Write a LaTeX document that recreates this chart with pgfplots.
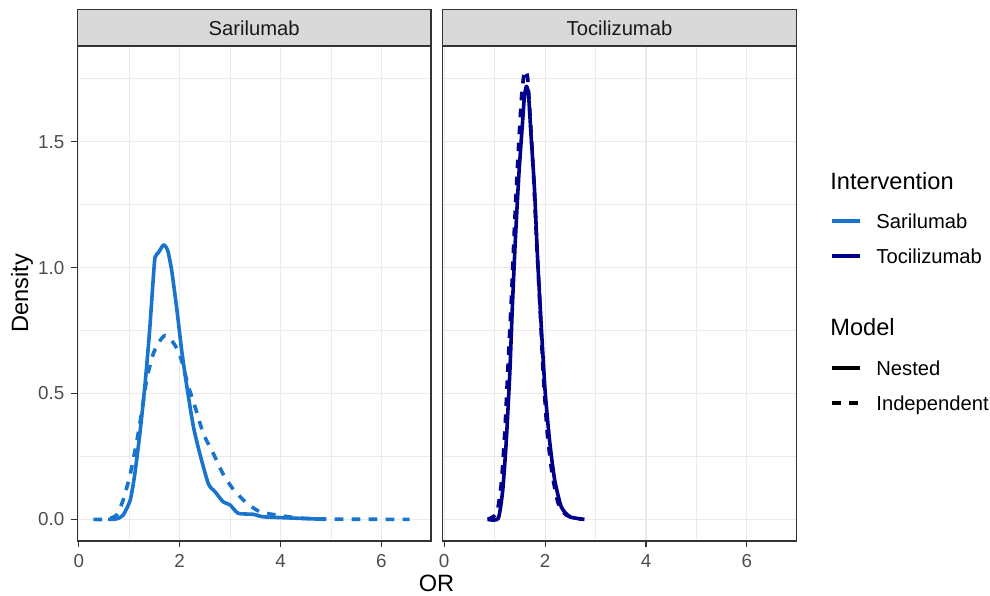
\documentclass[border=0pt]{standalone}
\usepackage{fontspec}
\setmainfont{Liberation Sans}
\usepackage{pgfplots}
\pgfplotsset{compat=1.18}

\definecolor{sari}{HTML}{1874CD}
\definecolor{toci}{HTML}{00008B}
\definecolor{grmaj}{HTML}{EBEBEB}
\definecolor{frame}{HTML}{333333}
\definecolor{strip}{HTML}{D9D9D9}
\definecolor{ticklab}{HTML}{4D4D4D}

\pgfplotsset{
  panel/.style={
    scale only axis, width=176.8pt, height=247.5pt,
    xmin=-0.03, xmax=6.98, ymin=-0.086, ymax=1.88,
    xtick={0,2,4,6}, minor xtick={1,3,5},
    ytick={0,0.5,1,1.5}, minor ytick={0.25,0.75,1.25,1.75},
    grid=both,
    major grid style={grmaj, line width=0.6pt},
    minor grid style={grmaj, line width=0.3pt},
    axis line style={frame, line width=0.75pt},
    tick style={frame, line width=0.6pt},
    tick align=outside, major tick length=3pt, minor tick length=0pt,
    xtick pos=bottom, ytick pos=left,
    tick label style={font=\fontsize{9.4}{11}\selectfont, text=ticklab},
    /pgf/number format/assume math mode=true,
    yticklabel style={/pgf/number format/.cd, fixed, fixed zerofill, precision=1},
  },
  nested/.style={line width=1.8pt, line join=round, smooth, tension=0.35},
  indep/.style={line width=1.8pt, smooth, tension=0.35, dash pattern=on 4.3pt off 4.2pt},
}

\begin{document}
\begin{tikzpicture}
\path[use as bounding box] (0,0) rectangle (495pt,297.5pt);

% Sarilumab panel
\begin{axis}[panel, name=left, at={(38.65pt,27pt)}, anchor=south west]
\addplot[sari, indep] coordinates {
 (0.29,0) (0.55,0) (0.75,0.017) (0.88,0.077) (1.02,0.18) (1.15,0.31) (1.25,0.43)
 (1.35,0.56) (1.48,0.66) (1.61,0.71) (1.71,0.73) (1.84,0.71) (1.94,0.68) (2.04,0.63)
 (2.17,0.53) (2.30,0.45) (2.47,0.34) (2.67,0.26) (2.86,0.18) (3.06,0.12) (3.33,0.064)
 (3.59,0.03) (3.92,0.017) (4.38,0.005) (5.0,0.001) (6.56,0)
};
\addplot[sari, nested] coordinates {
 (0.58,0) (0.75,0.002) (0.88,0.017) (1.02,0.077) (1.11,0.18) (1.21,0.34) (1.31,0.53)
 (1.40,0.74) (1.47,0.94) (1.51,1.04) (1.58,1.06) (1.68,1.09) (1.76,1.07) (1.84,0.99)
 (1.94,0.84) (2.04,0.67) (2.14,0.53) (2.27,0.37) (2.40,0.26) (2.57,0.14) (2.70,0.11)
 (2.86,0.07) (3.00,0.057) (3.16,0.024) (3.46,0.02) (3.66,0.01) (4.25,0.005) (4.88,0)
};
\end{axis}

% Tocilizumab panel
\begin{axis}[panel, name=right, at={(221.35pt,27pt)}, anchor=south west,
  yticklabels={}, ytick style={draw=none}]
\addplot[toci, indep] coordinates {
 (0.86,0) (1.04,0.024) (1.13,0.14) (1.20,0.34) (1.26,0.59) (1.33,0.87) (1.39,1.15)
 (1.46,1.43) (1.53,1.67) (1.59,1.78) (1.65,1.76) (1.70,1.61) (1.77,1.37) (1.83,1.11)
 (1.90,0.84) (1.96,0.59) (2.04,0.35) (2.14,0.18) (2.26,0.064) (2.42,0.017) (2.72,0)
};
\addplot[toci, nested] coordinates {
 (0.86,0) (1.07,0.003) (1.16,0.116) (1.23,0.31) (1.30,0.58) (1.35,0.84) (1.41,1.11)
 (1.48,1.37) (1.55,1.57) (1.59,1.68) (1.63,1.72) (1.67,1.69) (1.72,1.53) (1.79,1.31)
 (1.85,1.04) (1.92,0.78) (2.00,0.51) (2.09,0.31) (2.19,0.156) (2.32,0.05) (2.49,0.01)
 (2.78,0)
};
\end{axis}

% facet strips
\foreach \ax/\lab in {left/Sarilumab, right/Tocilizumab}{
  \draw[frame, fill=strip, line width=0.75pt] (\ax.north west) rectangle ([yshift=18.25pt]\ax.north east);
  \node[font=\fontsize{10.1}{12}\selectfont, text=black!90] at ([yshift=9.1pt]\ax.north) {\lab};
  \draw[frame, line width=0.75pt] (\ax.south west) rectangle (\ax.north east);
}

% axis titles
\node[font=\fontsize{11.8}{13}\selectfont] at (218.25pt,6pt) {OR};
\node[font=\fontsize{11.8}{13}\selectfont, rotate=90] at (11pt,151pt) {Density};

% legend
\begin{scope}[font=\fontsize{10.1}{12}\selectfont]
\node[anchor=base west, inner sep=0pt, font=\fontsize{11.8}{13}\selectfont] at (415pt,202.8pt) {Intervention};
\draw[sari, line width=1.8pt] (416pt,187pt) -- (430pt,187pt);
\node[anchor=base west, inner sep=0pt] at (438pt,183.4pt) {Sarilumab};
\draw[toci, line width=1.8pt] (416pt,169.5pt) -- (430pt,169.5pt);
\node[anchor=base west, inner sep=0pt] at (438pt,165.9pt) {Tocilizumab};
\node[anchor=base west, inner sep=0pt, font=\fontsize{11.8}{13}\selectfont] at (415pt,129.8pt) {Model};
\draw[black, line width=1.8pt] (416pt,113.5pt) -- (430pt,113.5pt);
\node[anchor=base west, inner sep=0pt] at (438pt,109.9pt) {Nested};
\draw[black, line width=1.8pt, dash pattern=on 4.3pt off 4.2pt] (416pt,96pt) -- (430pt,96pt);
\node[anchor=base west, inner sep=0pt] at (438pt,92.4pt) {Independent};
\end{scope}
\end{tikzpicture}
\end{document}
